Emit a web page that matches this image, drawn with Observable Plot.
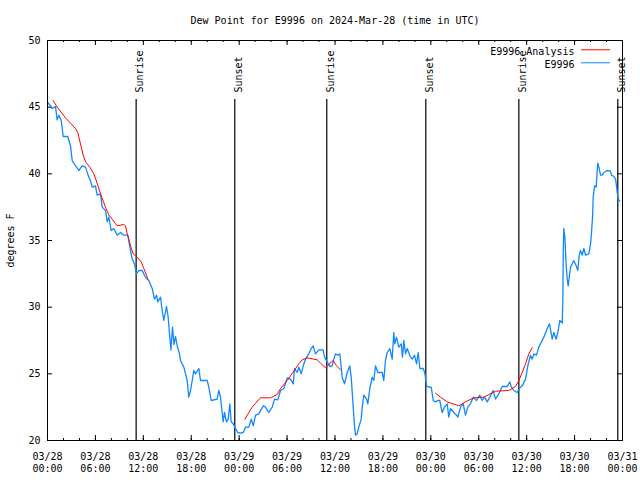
<!DOCTYPE html>
<html><head><meta charset="utf-8">
<script src="https://cdn.jsdelivr.net/npm/d3@7"></script>
<script src="https://cdn.jsdelivr.net/npm/@observablehq/plot@0.6"></script>
<style>html,body{margin:0;padding:0;background:#fff;}</style>
</head><body><div id="chart"></div>
<script>
const startUTC = Date.UTC(2024, 2, 28, 0, 0);
const titleText = "Dew Point for E9996 on 2024-Mar-28 (time in UTC)";
const yLabel = "degrees F";
const obsName = "E9996";
const anaName = "E9996 Analysis";
const obsColor = "#1188ff";
const anaColor = "#ff0000";

// observed dew point (hours since 03/28 00:00 UTC)
const obsHours = [0.0,0.59,1.00,1.21,1.42,1.72,1.97,2.54,2.88,3.09,
3.29,3.92,4.35,4.76,5.17,5.38,5.60,6.01,6.22,6.64,
6.85,7.26,7.48,7.68,7.98,8.30,8.73,9.14,9.55,10.06,
10.31,10.61,10.89,11.14,11.43,11.86,12.27,12.68,13.11,13.40,
13.65,13.81,14.15,14.36,14.56,14.90,15.11,15.28,15.46,15.65,
15.84,16.03,16.28,16.53,16.65,17.07,17.49,17.69,17.91,18.12,
18.32,18.53,18.95,19.16,20.00,20.20,20.50,21.25,21.45,21.66,
22.00,22.16,22.41,22.63,22.83,23.00,23.25,23.54,23.83,24.17,
24.51,24.79,25.21,25.51,25.76,26.05,26.46,27.01,27.30,27.71,
28.14,28.43,28.84,29.18,29.59,30.02,30.43,30.77,30.93,31.27,
31.47,31.77,32.02,32.31,32.72,33.02,33.27,33.56,33.97,34.52,
34.69,35.02,35.35,35.65,35.85,36.06,36.35,36.60,36.69,36.90,
37.19,37.53,37.85,38.03,38.28,38.44,38.57,38.78,38.98,39.28,
39.41,39.61,39.95,40.11,40.36,40.66,40.86,41.07,41.36,41.91,
42.11,42.32,42.54,42.86,43.16,43.36,43.49,43.70,43.99,44.29,
44.45,44.62,44.83,45.04,45.45,45.67,45.96,46.21,46.42,46.62,
47.05,47.25,47.46,47.75,48.05,48.30,48.59,48.87,49.12,49.42,
49.71,50.05,50.25,50.46,50.88,51.22,51.38,51.72,52.05,52.34,
52.63,52.96,53.31,53.72,54.13,54.43,54.72,55.06,55.39,55.81,
56.10,56.51,56.94,57.56,57.89,58.06,58.39,58.82,59.14,59.44,
59.86,60.14,60.48,60.69,60.90,61.23,61.52,61.73,62.15,62.57,
62.86,63.20,63.40,63.70,63.95,64.15,64.45,64.53,64.58,64.65,
64.78,64.95,65.08,65.20,65.28,65.49,65.90,66.20,66.40,66.58,
66.74,66.96,67.16,67.37,67.78,68.00,68.12,68.25,68.33,68.50,
68.71,68.83,68.91,69.04,69.25,69.46,69.66,70.09,70.50,70.62,
70.91,71.13,71.25,71.34,71.46,71.67];
const obsDew = [45.4,44.9,45.05,44.05,44.4,44.0,42.8,42.8,42.1,41.0,
40.8,40.25,40.6,40.5,39.75,39.5,39.0,39.1,38.4,38.5,
37.5,37.25,36.4,36.75,35.75,35.9,35.4,35.6,35.4,35.4,
34.5,33.6,33.25,32.5,32.75,32.75,32.25,32.0,31.4,30.6,
30.9,30.4,30.75,29.75,29.0,30.05,29.25,28.0,26.8,28.5,
27.2,27.8,27.0,26.5,26.0,25.5,24.5,23.25,23.75,24.5,
25.25,25.0,25.4,24.5,24.5,24.0,23.0,23.1,23.75,23.25,
21.4,22.1,21.4,21.6,22.75,21.4,21.25,20.9,20.6,20.55,
20.6,21.0,21.0,21.6,21.1,21.9,22.0,22.6,22.5,22.1,
22.5,23.1,23.05,23.75,23.9,24.7,24.6,24.25,25.4,25.1,
25.5,25.0,25.6,26.1,26.5,26.9,27.1,26.5,26.8,26.8,
26.25,25.9,25.55,25.6,26.1,26.5,26.4,26.5,26.0,24.75,
24.25,25.1,25.6,24.75,22.5,21.1,20.4,20.5,21.0,21.6,
22.5,23.4,23.1,22.75,23.9,24.75,24.5,25.6,25.1,25.1,
24.5,26.0,26.6,26.9,26.1,28.1,27.25,27.75,27.0,27.25,
26.25,27.5,26.5,26.9,26.25,26.1,26.4,25.75,26.6,25.4,
25.4,25.05,24.1,24.0,24.0,23.0,22.9,23.0,23.0,22.1,
22.5,22.75,21.75,22.4,22.1,21.9,21.75,22.5,22.75,21.9,
22.5,22.75,23.25,23.0,23.4,23.0,23.25,22.9,23.25,23.75,
23.1,23.5,24.05,24.05,24.4,24.05,23.75,23.6,23.95,24.1,
24.6,25.6,26.4,26.1,26.5,26.4,27.0,27.25,27.75,28.4,
28.75,27.6,28.1,27.6,28.25,29.0,28.8,30.5,34.1,35.9,
35.25,33.1,32.1,31.6,32.0,33.0,33.5,33.1,32.75,33.9,
34.25,33.9,34.4,33.9,34.0,34.75,35.6,36.75,38.25,39.1,
39.0,40.25,40.8,40.5,39.9,39.9,40.1,40.25,40.2,39.9,
39.8,39.6,39.1,38.6,38.1,37.95];

// analysis (null = gap)
const anaHours = [0.71,1.21,2.25,3.51,3.79,4.13,4.47,4.76,5.30,5.80,6.10,6.64,7.26,7.68,8.10,8.52,8.73,9.55,9.77,9.98,10.18,10.39,10.73,11.23,11.73,12.06,12.40,12.56,
18.0,
24.71,25.63,26.67,27.92,28.76,29.18,30.02,30.84,31.47,31.89,32.52,33.35,33.77,34.19,34.81,35.22,35.77,36.19,36.69,
42.0,
48.59,49.21,50.05,51.50,52.34,53.38,54.63,56.10,57.76,58.60,59.02,59.44,59.86,60.27,60.69];
const anaDew = [45.5,45.0,44.2,43.4,43.1,42.25,41.4,40.9,40.5,40.0,39.5,38.5,37.5,36.9,36.6,36.25,36.1,36.2,36.1,35.5,35.1,34.6,34.0,33.75,33.4,32.9,32.4,32.1,
null,
21.6,22.5,23.2,23.2,23.45,23.9,24.5,25.2,25.75,26.05,26.2,26.1,26.05,25.8,25.45,25.7,26.0,25.6,25.3,
null,
23.55,23.25,22.9,22.6,22.9,23.2,23.25,23.7,23.75,24.05,24.5,25.1,25.75,26.5,26.95];

const eventHours = [11.1, 23.45, 34.97, 47.37, 59.02, 71.41];
const eventLabels = ["Sunrise","Sunset","Sunrise","Sunset","Sunrise","Sunset"];

const yTicks = [20,25,30,35,40,45,50];
const majorTickHours = d3.range(0, 73, 6);
const minorTickHours = d3.range(0, 73, 2);

const toDate = h => new Date(startUTC + h * 3600000);
const obs = obsHours.map((h, i) => ({t: toDate(h), v: obsDew[i]}));
const ana = anaHours.map((h, i) => ({t: toDate(h), v: anaDew[i]}));
const events = eventHours.map((h, i) => ({t: toDate(h), label: eventLabels[i]}));
const majorTicks = majorTickHours.map(toDate);
const minorTicks = minorTickHours.map(toDate);
const fmtDay = d3.utcFormat("%m/%d"), fmtTime = d3.utcFormat("%H:%M");

const chart = Plot.plot({
  width: 640, height: 480,
  marginLeft: 47, marginRight: 18, marginTop: 40, marginBottom: 40,
  style: {fontFamily: "DejaVu Sans Mono", fontSize: "10px", background: "#fff", color: "#000", overflow: "visible"},
  x: {type: "utc", domain: [toDate(0), toDate(72)]},
  y: {domain: [20, 50]},
  marks: [
    Plot.ruleX(minorTicks, {x: d => d, insetTop: 398, stroke: "#000"}),
    Plot.ruleX(minorTicks, {x: d => d, insetBottom: 398, stroke: "#000"}),
    Plot.ruleX(majorTicks, {x: d => d, insetTop: 395, stroke: "#000"}),
    Plot.ruleX(majorTicks, {x: d => d, insetBottom: 395, stroke: "#000"}),
    Plot.ruleY(yTicks, {y: d => d, insetRight: 570, stroke: "#000"}),
    Plot.ruleY(yTicks, {y: d => d, insetLeft: 570, stroke: "#000"}),
    Plot.ruleX(events, {x: "t", insetTop: 59, stroke: "#000", strokeWidth: 1.2}),
    Plot.text(events, {x: "t", frameAnchor: "top", dy: 52, text: "label", rotate: -90, textAnchor: "start", fill: "#000"}),
    Plot.line(obs, {x: "t", y: "v", stroke: obsColor, strokeWidth: 1.3}),
    Plot.line(ana, {x: "t", y: "v", stroke: anaColor, strokeWidth: 1}),
    Plot.frame({stroke: "#000"}),
    Plot.axisX({ticks: majorTicks, tickSize: 0, tickPadding: 11, lineHeight: 1.2, label: null,
      tickFormat: d => fmtDay(d) + "\n" + fmtTime(d)}),
    Plot.axisY({ticks: yTicks, tickSize: 0, tickPadding: 7, label: null}),
    Plot.text([yLabel], {text: d => d, frameAnchor: "left", dx: -37, rotate: -90, textAnchor: "middle", fill: "#000"}),
    Plot.text([titleText], {text: d => d, frameAnchor: "top", dy: -17, lineAnchor: "bottom", textAnchor: "middle", fill: "#000"}),
    Plot.text([anaName], {text: d => d, frameAnchor: "top-right", dx: -48, dy: 7, textAnchor: "end", fill: "#000"}),
    Plot.text([obsName], {text: d => d, frameAnchor: "top-right", dx: -48, dy: 20, textAnchor: "end", fill: "#000"}),
    Plot.ruleY([50], {dy: 9.3, insetLeft: 534, insetRight: 12, stroke: anaColor}),
    Plot.ruleY([50], {dy: 22.3, insetLeft: 534, insetRight: 12, stroke: obsColor})
  ]
});
document.getElementById("chart").appendChild(chart);
</script>
</body></html>
